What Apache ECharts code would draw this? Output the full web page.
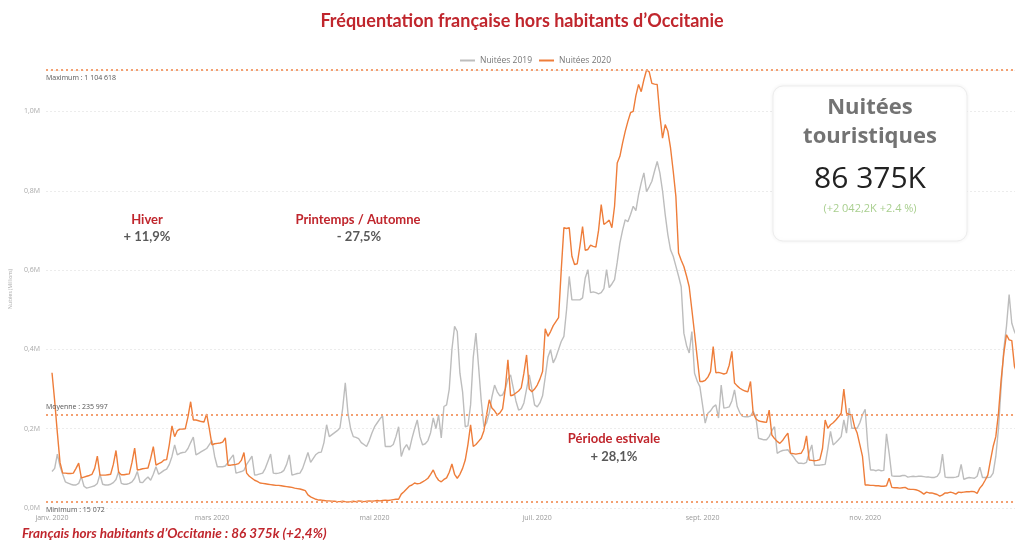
<!DOCTYPE html>
<html>
<head>
<meta charset="utf-8">
<script src="https://cdn.jsdelivr.net/npm/echarts@6/dist/echarts.min.js"></script>
<style>html,body{margin:0;padding:0;background:#fff}#c{width:1015px;height:542px}</style>
</head>
<body>
<div id="c"></div>
<script>
// ---- DATA (thousands of nights per day, index 0 = 1 January) ----
const seriesNames = ['Nuitées 2019', 'Nuitées 2020'];
const nights2019 = [
92,100,136,105,85,66,63, 60,58,58,62,79,55,50, 52,54,56,62,85,60,58, 58,60,64,72,92,62,60,
60,62,66,75,92,65,64, 72,78,70,85,104,85,90, 95,98,110,130,159,134,138, 140,141,150,165,179,134,138,
142,146,150,160,170,130,104, 104,104,106,115,125,134,88, 90,92,95,110,120,131,83, 84,86,88,100,118,136,88,
87,88,90,95,110,134,83, 85,87,88,100,120,140,115, 125,135,140,141,165,210,180, 185,190,195,202,250,316,240,
200,180,178,175,165,160,155, 170,189,205,215,225,232,155, 155,155,160,180,205,130,150, 160,146,175,200,222,180,159,
162,170,190,227,200,235,177, 256,260,300,400,458,445,340, 293,205,207,260,380,441,357, 270,205,215,240,280,310,293,
283,285,300,325,336,303,270, 247,250,265,300,336,300,260, 255,265,283,330,380,399,366, 380,400,420,433,500,584,525,
525,525,525,530,580,601,543, 545,543,540,543,553,601,556, 565,576,620,668,700,727,722, 740,761,750,790,820,845,798,
810,824,850,874,845,800,740, 689,651,635,610,585,558,441, 410,391,445,340,320,306,260, 214,239,245,255,260,227,310,
252,253,255,270,298,256,240, 231,230,230,232,244,230,176, 174,172,172,180,195,205,138, 142,145,146,147,138,130,120,
113,113,112,115,140,159,108, 108,108,109,110,150,193,159, 165,172,180,222,189,252,201, 201,201,215,235,249,155,96,
96,94,96,94,95,187,138, 81,80,80,80,82,82,78, 79,80,79,80,80,79,78, 78,77,77,80,90,136,78,
77,77,77,78,80,110,72, 75,77,76,75,80,103,77, 77,77,78,88,130,200,306, 400,458,538,466,445,431,420,
410
];
const nights2020 = [
341,270,190,115,88,88,87, 87,88,100,113,76,78,80, 82,85,100,131,83,83,83, 84,85,110,145,90,84,84,
85,86,115,151,96,97,99, 100,101,125,155,108,112,115, 121,122,160,207,180,195,199, 199,200,230,268,222,222,220,
218,217,237,200,159,162,163, 164,166,177,108,108,109,110, 112,120,140,88,80,75,70, 67,63,62,61,60,59,58,
57,57,56,55,54,53,52, 50,49,48,46,44,33,28, 25,22,20,20,19,18,18, 17,17,16,16,17,16,15.072,
16,17,16,18,17,16,17, 18,17,18,19,18,19,20, 19,20,21,22,22,35,41, 48,55,58,63,61,62,66,
70,75,85,96,80,70,66, 72,76,90,111,85,75,85, 100,121,160,210,155,160,168, 176,195,235,273,252,245,235,
240,250,300,374,283,285,290, 295,303,340,386,300,293,300, 310,325,344,452,433,445,460, 470,480,600,707,705,707,635,
614,616,660,710,650,652,663, 660,658,700,765,715,720,726, 707,761,870,887,920,950,975, 997,1000,1040,1068,1050,1080,1104.618,
1100,1071,1069,1068,990,933,967, 950,908,850,786,643,625,609, 585,558,500,441,380,319,319, 322,330,344,407,341,342,340,
338,340,360,395,315,308,302, 298,295,293,319,239,225,220, 218,217,216,247,184,175,168, 163,170,180,189,138,137,136,
137,138,150,182,121,120,119, 120,122,150,222,201,210,215, 222,230,239,300,239,236,235, 205,189,160,130,58,58,57,
57,56,56,55,55,56,75, 52,51,51,50,51,52,48, 47,47,46,44,40,35,40, 38,38,36,34,30,33,38,
38,40,38,35,40,39,40, 41,41,42,41,37,50,58, 70,83,120,155,180,239,323, 390,437,424,422,357,340,330,
320,310
];
const monthTickDays = [0, 60, 121, 182, 244, 305];
const monthTickLabels = ['janv. 2020', 'mars 2020', 'mai 2020', 'juil. 2020', 'sept. 2020', 'nov. 2020'];
const refLineValues = [1104618, 235997, 15072];
const refLineLabels = ['Maximum : 1 104 618', 'Moyenne : 235 997', 'Minimum : 15 072'];
const seasonNames = ['Hiver', 'Printemps / Automne', 'Période estivale'];
const seasonChanges = ['+ 11,9%', '- 27,5%', '+ 28,1%'];
const kpiTitle = ['Nuitées', 'touristiques'];
const kpiValue = '86 375K';
const kpiDelta = '(+2 042,2K +2.4 %)';
const chartTitle = 'Fréquentation française hors habitants d’Occitanie';
const footnote = 'Français hors habitants d’Occitanie : 86 375k (+2,4%)';

// ---- CHART ----
const toPairs = arr => arr.map((v, i) => [i, v * 1000]);
const RED = '#c0262d';
const ORANGE = '#ee7d3a';
const GRAY = '#bdbdbd';
const chart = echarts.init(document.getElementById('c'), null, {renderer: 'canvas'});

const mlData = refLineValues.map((v, i) => ({
  yAxis: v,
  label: {
    formatter: refLineLabels[i],
    position: i === 1 ? 'insideStartTop' : 'insideStartBottom'
  }
}));

const ann = (x, y, text, color) => ({type: 'text', x, y,
  style: {text, font: 'bold 13px Lato', fill: color, align: 'center', verticalAlign: 'middle'}});

const option = {
  backgroundColor: '#fff',
  animation: false,
  title: {
    text: chartTitle, left: 517, top: 7, textAlign: 'center',
    textStyle: {color: RED, fontFamily: 'Lato', fontWeight: 'bold', fontSize: 18}
  },
  legend: {
    top: 51, left: 455, itemWidth: 15, itemHeight: 2, itemGap: 7, icon: 'rect',
    textStyle: {fontFamily: 'Open Sans', fontSize: 8.5, color: '#777'},
    data: seriesNames
  },
  grid: {left: 44, right: 0, top: 70, bottom: 34, containLabel: false},
  xAxis: {
    type: 'value', min: -2.25, max: 361.2,
    axisLine: {show: false}, axisTick: {show: false}, splitLine: {show: false},
    axisLabel: {
      customValues: monthTickDays,
      formatter: v => monthTickLabels[monthTickDays.indexOf(Math.round(v))] || '',
      fontFamily: 'Open Sans', fontSize: 7, color: '#999', margin: 6
    }
  },
  yAxis: {
    type: 'value', min: 0, max: refLineValues[0], interval: 200000,
    name: 'Nuitées (Millions)', nameLocation: 'middle', nameGap: 28, nameRotate: 90,
    nameTextStyle: {fontFamily: 'Open Sans', fontSize: 5, color: '#aaa'},
    axisLine: {show: false}, axisTick: {show: false},
    axisLabel: {
      showMaxLabel: false,
      formatter: v => (v / 1e6).toFixed(1).replace('.', ',') + 'M',
      fontFamily: 'Open Sans', fontSize: 7, color: '#aaa', margin: 6
    },
    splitLine: {lineStyle: {color: '#ececec', type: [2, 2], width: 1}}
  },
  series: [
    {
      name: seriesNames[0], type: 'line', data: toPairs(nights2019), showSymbol: false, clip: true,
      lineStyle: {color: GRAY, width: 1.4}, itemStyle: {color: GRAY}, z: 2
    },
    {
      name: seriesNames[1], type: 'line', data: toPairs(nights2020), showSymbol: false, clip: true,
      lineStyle: {color: ORANGE, width: 1.4}, itemStyle: {color: ORANGE}, z: 3,
      markLine: {
        silent: true, symbol: 'none', animation: false,
        lineStyle: {color: '#f3a071', type: [2, 3], width: 1.8},
        label: {fontFamily: 'Open Sans', fontSize: 7, color: '#555', distance: [0, 4]},
        data: mlData
      }
    }
  ],
  graphic: [
    ann(147, 220, seasonNames[0], RED),
    ann(147, 237, seasonChanges[0], '#595959'),
    ann(358, 220, seasonNames[1], RED),
    ann(359, 237, seasonChanges[1], '#595959'),
    ann(614, 439, seasonNames[2], RED),
    ann(614, 457, seasonChanges[2], '#595959'),
    // KPI card
    {type: 'rect', shape: {x: 773, y: 86, width: 194, height: 155, r: 10},
     style: {fill: '#fff', stroke: '#ededed', lineWidth: 1, shadowBlur: 4, shadowColor: 'rgba(0,0,0,0.06)'}, z: 10},
    {type: 'text', x: 870, y: 108, z: 11, style: {text: kpiTitle[0], font: 'bold 22px "Open Sans"', fill: '#737373', align: 'center', verticalAlign: 'middle'}},
    {type: 'text', x: 870, y: 137, z: 11, style: {text: kpiTitle[1], font: 'bold 22px "Open Sans"', fill: '#737373', align: 'center', verticalAlign: 'middle'}},
    {type: 'text', x: 870, y: 179, z: 11, style: {text: kpiValue, font: '30px "Open Sans"', fill: '#222', align: 'center', verticalAlign: 'middle'}},
    {type: 'text', x: 870, y: 209, z: 11, style: {text: kpiDelta, font: '11px "Open Sans"', fill: '#a9cf8f', align: 'center', verticalAlign: 'middle'}},
    // footnote
    {type: 'text', x: 22, y: 534, style: {text: footnote, font: 'italic bold 13.5px Lato', fill: RED, align: 'left', verticalAlign: 'middle'}}
  ]
};
chart.setOption(option);
</script>
</body>
</html>
